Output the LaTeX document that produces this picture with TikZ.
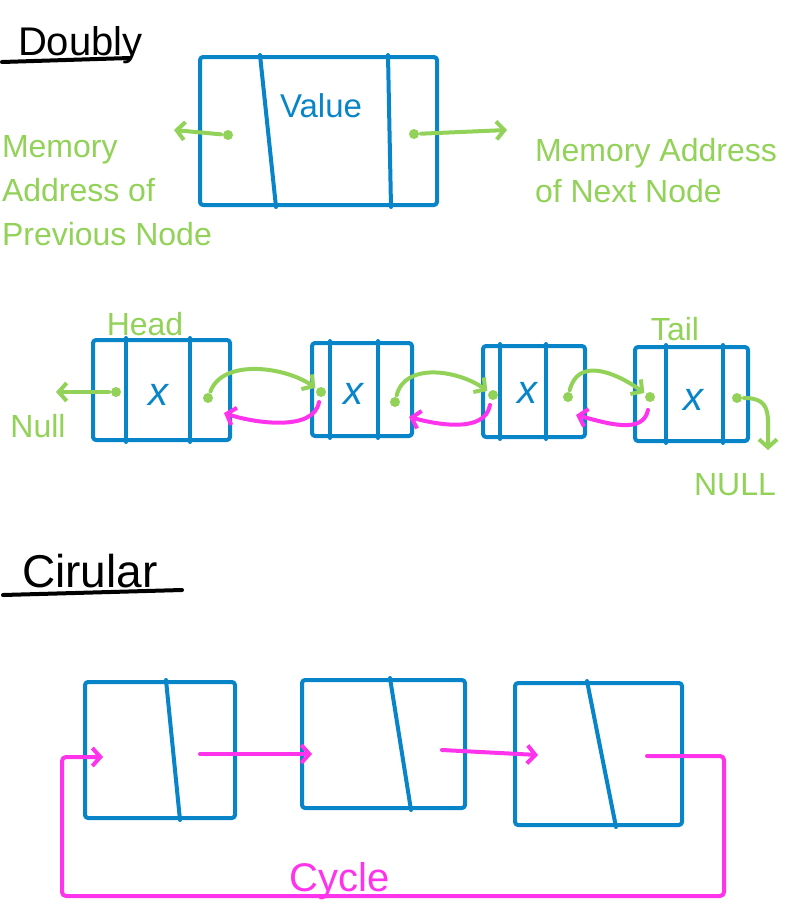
\documentclass[tikz,border=0pt]{standalone}
\usepackage{fontspec}
\setmainfont{Liberation Sans}
\usetikzlibrary{arrows.meta}
\definecolor{blueink}{RGB}{8,132,200}
\definecolor{greenink}{RGB}{146,210,88}
\definecolor{pinkink}{RGB}{255,51,235}

\begin{document}
\begin{tikzpicture}[x=1pt, y=-1pt, line width=4pt, line cap=round, line join=round,
    box/.style={draw=blueink, rectangle, inner sep=0pt, rounded corners=3pt},
    dot/.style={circle, fill=greenink, inner sep=0pt, minimum size=10pt},
    barb/.style={-{Straight Barb[length=8pt, width=18pt]}},
    gline/.style={draw=greenink, barb},
    pline/.style={draw=pinkink, barb},
    glabel/.style={text=greenink, font=\fontsize{32}{44}\selectfont, inner sep=0pt},
    title/.style={font=\fontsize{40}{48}\selectfont, inner sep=0pt, anchor=base west},
    xval/.style={text=blueink, font=\fontsize{40}{48}\selectfont\itshape, inner sep=0pt}]
  \useasboundingbox (0,0) rectangle (785,924);

  \node[title] (doubly) at (16,55) {Doubly};
  \draw (2,62) -- (130,58);

  \node[box, minimum width=237pt, minimum height=148pt] (v) at (318.5,131) {};
  \draw[blueink] ([xshift=62pt]v.north west) -- ([xshift=78pt]v.south west)
                 ([xshift=190pt]v.north west) -- ([xshift=193pt]v.south west);
  \node[text=blueink, font=\fontsize{33}{40}\selectfont, inner sep=0pt, anchor=base] (vtxt) at (321,117) {Value};
  \node[dot] (vp) at (228,135) {};
  \node[dot] (vn) at (414,134) {};
  \coordinate (vpe) at (174,130);
  \coordinate (vne) at (507,130);
  \draw[gline] (vp) -- (vpe);
  \draw[gline] (vn) -- (vne);
  \node[glabel, align=left, anchor=north west] (prevlbl) at (0,133) {Memory\\Address of\\Previous Node};
  \node[glabel, align=left, anchor=north west, font=\fontsize{32}{41}\selectfont] (nextlbl) at (533,136) {Memory Address\\of Next Node};

  \node[box, minimum width=137pt, minimum height=100pt] (d1) at (161.5,390) {};
  \node[box, minimum width=100pt, minimum height=93pt] (d2) at (362,389.5) {};
  \node[box, minimum width=102pt, minimum height=91pt] (d3) at (534,391.5) {};
  \node[box, minimum width=113pt, minimum height=94pt] (d4) at (691.5,394) {};
  \foreach \b/\l/\r in {d1/35/99, d2/20/68, d3/19/65, d4/33/90}
    \draw[blueink] ([xshift=\l pt]\b.north west) -- ([xshift=\l pt]\b.south west)
                   ([xshift=\r pt]\b.north west) -- ([xshift=\r pt]\b.south west);
  \node[xval] (x1) at (158,395) {x};
  \node[xval] (x2) at (353,394) {x};
  \node[xval] (x3) at (527,393) {x};
  \node[xval] (x4) at (693,400) {x};
  \node[glabel, anchor=base] (head) at (145,335) {Head};
  \node[glabel, anchor=base] (tail) at (675,340) {Tail};

  \node[dot] (d1p) at (116,392) {};
  \node[dot] (d1n) at (208,398) {};
  \node[dot] (d2p) at (321,392) {};
  \node[dot] (d2n) at (395,402) {};
  \node[dot] (d3p) at (493,395) {};
  \node[dot] (d3n) at (568,397) {};
  \node[dot] (d4p) at (650,397) {};
  \node[dot] (d4n) at (737,398) {};

  \coordinate (nl) at (56,392);
  \coordinate (nr) at (768,450);
  \node[glabel, anchor=base] (nullL) at (38,437) {Null};
  \node[glabel, anchor=base] (nullR) at (735,495) {NULL};
  \draw[gline] (d1p) -- (nl);
  \draw[gline] (d4n) .. controls +(35,0) and +(0,-35) .. (nr);

  \draw[gline] (d1n) .. controls +(15,-40) and +(-35,-25) .. (d2p);
  \draw[gline] (d2n) .. controls +(10,-40) and +(-35,-25) .. (d3p);
  \draw[gline] (d3n) .. controls +(10,-40) and +(-35,-25) .. (d4p);
  \draw[pline] ([shift={(-2,10)}]d2p.center) .. controls +(-5,30) and +(30,10) .. ([shift={(16,15)}]d1n.center);
  \draw[pline] ([shift={(-3,10)}]d3p.center) .. controls +(-5,28) and +(30,8) .. ([shift={(14,15)}]d2n.center);
  \draw[pline] ([shift={(-2,13)}]d4p.center) .. controls +(-5,25) and +(30,8) .. ([shift={(8,18)}]d3n.center);

  \node[title, font=\fontsize{46}{52}\selectfont] (circ) at (20,587) {Cirular};
  \draw (3,595) -- (182,590);

  \node[box, minimum width=150pt, minimum height=136pt] (c1) at (160,750) {};
  \node[box, minimum width=163pt, minimum height=128pt] (c2) at (383.5,744) {};
  \node[box, minimum width=167pt, minimum height=142pt] (c3) at (598.5,754) {};
  \foreach \b/\t/\u in {c1/83/97, c2/90/111, c3/74/103}
    \draw[blueink] ([xshift=\t pt]\b.north west) -- ([xshift=\u pt]\b.south west);

  \coordinate (c1p) at (103,757);
  \coordinate (c1n) at (200,754);
  \coordinate (c2p) at (312,754);
  \coordinate (c2n) at (442,750);
  \coordinate (c3p) at (538,755);
  \coordinate (c3n) at (647,756);
  \coordinate (cyr) at (724,896);
  \coordinate (cyl) at (62,896);
  \draw[pline] (c1n) -- (c2p);
  \draw[pline] (c2n) -- (c3p);
  \draw[pline, rounded corners=4pt] (c3n) -| (cyr) -- (cyl) |- (c1p);
  \node[text=pinkink, font=\fontsize{40}{48}\selectfont, inner sep=0pt, anchor=base] (cyc) at (340,891) {Cycle};
\end{tikzpicture}
\end{document}
